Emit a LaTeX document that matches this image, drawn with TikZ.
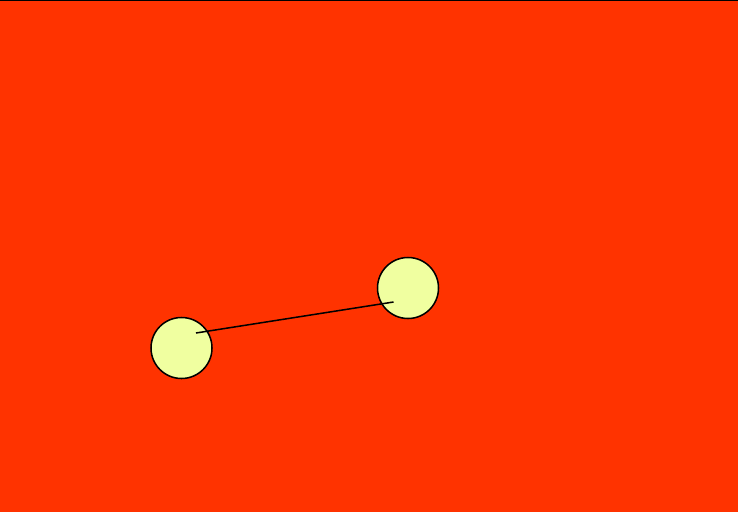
\documentclass[tikz,border=0pt]{standalone}
\usepackage{tikz}

\definecolor{bgred}{RGB}{255,51,0}
\definecolor{ballyellow}{RGB}{240,255,160}

\begin{document}
\begin{tikzpicture}[x=0.03cm,y=-0.03cm,line width=1.3pt,
  ball/.style={circle,draw=black,fill=ballyellow,minimum size=61*0.03cm,inner sep=0pt}]
 \fill[bgred] (0,0) rectangle (738,512);
 \useasboundingbox (0,0) rectangle (738,512);
 \draw[line width=1.6pt] (0,0.5)--(738,0.5);
 \node[ball] (left) at (181.5,348) {};
 \node[ball] (right) at (408,288) {};
 \draw ([shift={(14.5,-15)}]left.center)--([shift={(-14.5,14)}]right.center);
\end{tikzpicture}
\end{document}
